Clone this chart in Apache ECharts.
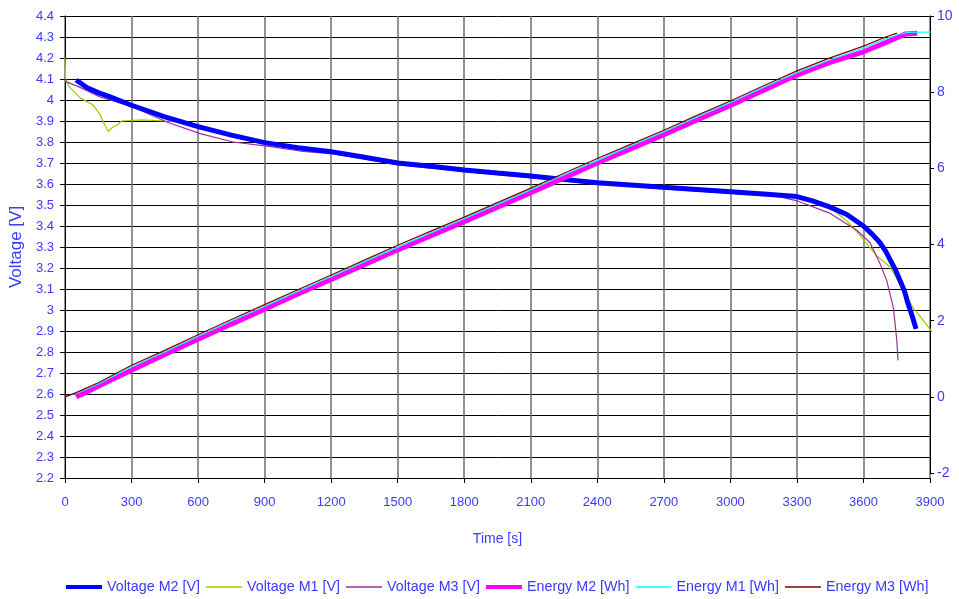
<!DOCTYPE html>
<html>
<head>
<meta charset="utf-8">
<script src="https://cdn.jsdelivr.net/npm/echarts@6/dist/echarts.min.js"></script>
<style>
html,body{margin:0;padding:0;background:#fff;}
#chart{width:959px;height:599px;}
</style>
</head>
<body>
<div id="chart"></div>
<script>
// ---- data ----
const seriesNames = ['Voltage M2 [V]','Voltage M1 [V]','Voltage M3 [V]','Energy M2 [Wh]','Energy M1 [Wh]','Energy M3 [Wh]'];
const xTicks = [0,300,600,900,1200,1500,1800,2100,2400,2700,3000,3300,3600,3900];

const timeVM2 = [50,100,150,200,300,450,600,750,900,1050,1200,1350,1500,1650,1800,1950,2100,2250,2400,2550,2700,2850,3000,3150,3300,3370,3450,3525,3600,3640,3675,3700,3720,3745,3765,3785,3801,3820,3837];
const voltM2  = [4.095,4.058,4.035,4.016,3.975,3.92,3.873,3.833,3.797,3.773,3.754,3.727,3.70,3.684,3.667,3.652,3.638,3.622,3.606,3.595,3.584,3.574,3.563,3.552,3.54,3.52,3.49,3.455,3.40,3.36,3.32,3.28,3.24,3.19,3.14,3.09,3.03,2.97,2.91];

const timeVM1 = [0,3,22,68,127,158,180,195,215,234,255,350,450,530,600,750,900,1050,1200,1350,1500,1650,1800,1950,2100,2250,2400,2550,2700,2850,3000,3150,3300,3400,3470,3530,3600,3661,3720,3779,3824,3869,3910];
const voltM1  = [4.20,4.09,4.06,4.01,3.976,3.93,3.88,3.85,3.87,3.88,3.90,3.905,3.90,3.895,3.87,3.832,3.797,3.773,3.754,3.727,3.70,3.684,3.667,3.652,3.638,3.622,3.606,3.595,3.584,3.574,3.563,3.552,3.54,3.51,3.47,3.42,3.335,3.257,3.205,3.095,3.01,2.952,2.895];

const timeVM3 = [0,10,68,158,307,459,609,758,910,1060,1200,1350,1500,1650,1800,1950,2100,2250,2400,2550,2700,2850,3000,3150,3221,3300,3450,3570,3630,3675,3705,3735,3750,3756];
const voltM3  = [4.10,4.085,4.06,4.015,3.967,3.895,3.84,3.80,3.78,3.757,3.745,3.72,3.692,3.676,3.66,3.645,3.63,3.614,3.598,3.588,3.577,3.566,3.556,3.545,3.54,3.52,3.46,3.38,3.32,3.22,3.14,3.01,2.86,2.76];

const timeEM2 = [50,100,200,300,450,600,750,900,1050,1200,1350,1500,1650,1800,1950,2100,2250,2400,2550,2700,2850,3000,3150,3300,3450,3600,3700,3790,3842];
const energyM2 = [0.0,0.13,0.42,0.70,1.11,1.51,1.91,2.30,2.70,3.08,3.47,3.86,4.23,4.60,4.98,5.36,5.75,6.14,6.51,6.88,7.27,7.65,8.05,8.45,8.78,9.06,9.30,9.53,9.55];

const timeEM1 = [0,50,150,300,450,600,750,900,1050,1200,1350,1500,1650,1800,1950,2100,2250,2400,2550,2700,2850,3000,3150,3300,3450,3600,3700,3760,3800,3905];
const energyM1 = [0.0,0.09,0.34,0.79,1.18,1.59,1.99,2.38,2.77,3.16,3.55,3.93,4.31,4.68,5.06,5.44,5.83,6.21,6.59,6.96,7.35,7.73,8.13,8.51,8.85,9.16,9.40,9.52,9.57,9.58];

const timeEM3 = [0,50,150,300,450,600,750,900,1050,1200,1350,1500,1650,1800,1950,2100,2250,2400,2550,2700,2850,3000,3150,3300,3450,3600,3700,3751];
const energyM3 = [0.0,0.11,0.37,0.83,1.22,1.63,2.03,2.42,2.81,3.20,3.59,3.98,4.35,4.72,5.10,5.48,5.87,6.26,6.63,7.00,7.39,7.77,8.17,8.56,8.90,9.21,9.45,9.55];

const seriesColors = ['#0000ff','#99cc00','#993399','#ff00ff','#00ffff','#800000'];
const seriesWidths = [5,1.2,1.2,5,1.2,1.2];

function zip(t, v){ return t.map((x,i)=>[x, v[i]]); }

const labelColor = '#3a3aff';
const fontFam = "'Liberation Sans', Arial, sans-serif";

const chart = echarts.init(document.getElementById('chart'), null, {renderer:'canvas'});
function mkLine(idx, xi, yi, t, v, z){
  return {name:seriesNames[idx], type:'line', xAxisIndex:xi, yAxisIndex:yi, data:zip(t,v),
    showSymbol:false, symbol:'none', z:z,
    lineStyle:{color:seriesColors[idx], width:seriesWidths[idx]}, itemStyle:{color:seriesColors[idx]}};
}
const legendData = seriesNames.map((n,i)=>({
  name:n,
  icon: seriesWidths[i] > 2 ? 'path://M0,0H36V4H0Z' : 'path://M0,0H36V1.4H0Z'
}));
const option = {
  animation: false,
  backgroundColor: '#ffffff',
  grid: [
    {left:65, right:29, top:16, bottom:121},
    {left:65, right:29, top:16, height:457}
  ],
  xAxis: [
    {
      type:'value', gridIndex:0, min:0, max:3900, interval:300,
      name:'Time [s]', nameLocation:'middle', nameGap:54,
      nameTextStyle:{color:labelColor, fontSize:14, fontFamily:fontFam},
      axisLine:{show:true, onZero:false, lineStyle:{color:'#000', width:1}},
      axisTick:{show:true, length:5, lineStyle:{color:'#000'}},
      axisLabel:{color:labelColor, fontSize:13, fontFamily:fontFam, margin:18,
        formatter: v => String(v)},
      splitLine:{show:true, lineStyle:{color:'#6e6e6e', width:1.5}}
    },
    {
      type:'value', gridIndex:1, min:0, max:3900, interval:300, show:false
    }
  ],
  yAxis: [
    {
      type:'value', gridIndex:0, min:2.2, max:4.4, interval:0.1,
      name:'Voltage [V]', nameLocation:'middle', nameGap:40,
      nameTextStyle:{color:labelColor, fontSize:17, fontFamily:fontFam},
      axisLine:{show:true, onZero:false, lineStyle:{color:'#000', width:1}},
      axisTick:{show:true, length:5, lineStyle:{color:'#000'}},
      axisLabel:{color:labelColor, fontSize:13, fontFamily:fontFam, margin:11,
        formatter: v => String(+v.toFixed(1))},
      splitLine:{show:true, lineStyle:{color:'#000', width:1}}
    },
    {
      type:'value', gridIndex:1, position:'right', min:-2, max:10, interval:2,
      axisLine:{show:true, onZero:false, lineStyle:{color:'#000', width:1}},
      axisTick:{show:true, length:4, lineStyle:{color:'#000'}},
      axisLabel:{color:labelColor, fontSize:14, fontFamily:fontFam, margin:7},
      splitLine:{show:false}
    }
  ],
  legend: {
    top: 575, left: 61,
    itemWidth: 36, itemHeight: 14, itemGap: 6,
    textStyle:{color:labelColor, fontSize:14.3, fontFamily:fontFam},
    data: legendData
  },
  series: [
    mkLine(1, 0, 0, timeVM1, voltM1, 2),
    mkLine(2, 0, 0, timeVM3, voltM3, 3),
    mkLine(0, 0, 0, timeVM2, voltM2, 4),
    mkLine(3, 1, 1, timeEM2, energyM2, 5),
    mkLine(4, 1, 1, timeEM1, energyM1, 6),
    mkLine(5, 1, 1, timeEM3, energyM3, 7)
  ]
};
chart.setOption(option);
</script>
</body>
</html>
